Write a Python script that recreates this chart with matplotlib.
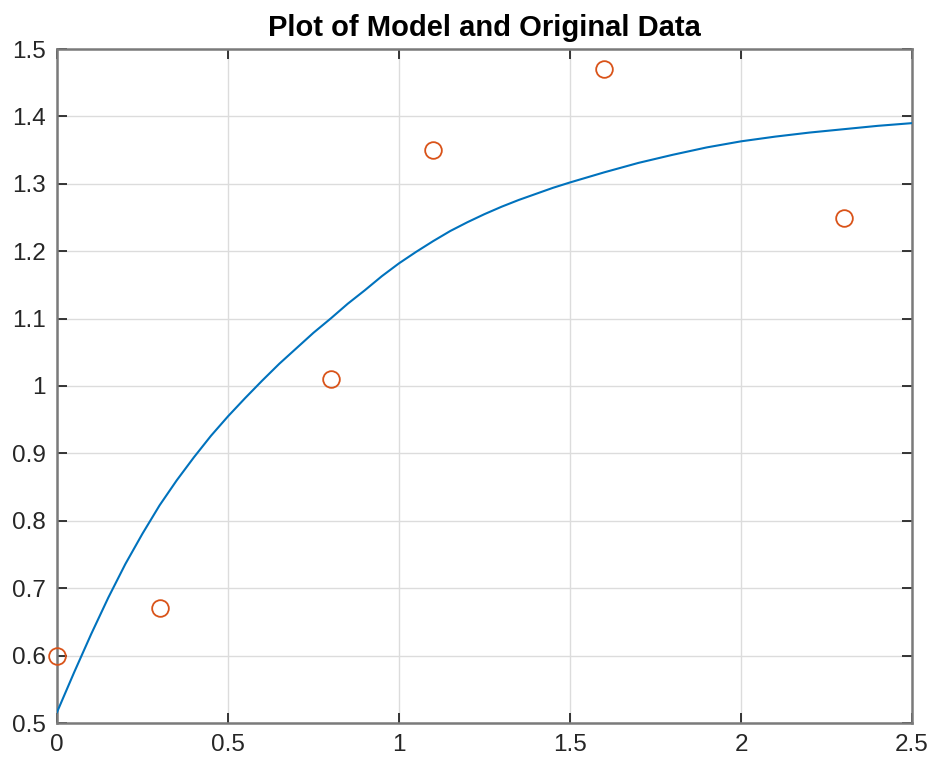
import matplotlib
matplotlib.use("Agg")
import matplotlib.pyplot as plt

# Model curve
model_x = [0.0, 0.05, 0.1, 0.15, 0.2, 0.25, 0.3, 0.35, 0.4, 0.45, 0.5, 0.55,
           0.6, 0.65, 0.7, 0.75, 0.8, 0.85, 0.9, 0.95, 1.0, 1.05, 1.1, 1.15,
           1.2, 1.25, 1.3, 1.35, 1.4, 1.45, 1.5, 1.6, 1.7, 1.8, 1.9, 2.0,
           2.1, 2.2, 2.3, 2.4, 2.5]
model_y = [0.516, 0.575, 0.632, 0.686, 0.736, 0.781, 0.823, 0.860, 0.894,
           0.926, 0.955, 0.982, 1.008, 1.033, 1.056, 1.079, 1.100, 1.122,
           1.142, 1.163, 1.182, 1.199, 1.215, 1.230, 1.243, 1.255, 1.266,
           1.276, 1.285, 1.294, 1.302, 1.317, 1.331, 1.343, 1.354, 1.363,
           1.370, 1.376, 1.381, 1.386, 1.390]

# Original data
data_x = [0.0, 0.3, 0.8, 1.1, 1.6, 2.3]
data_y = [0.60, 0.67, 1.01, 1.35, 1.47, 1.25]

x_ticks = [0, 0.5, 1, 1.5, 2, 2.5]
x_ticklabels = ["0", "0.5", "1", "1.5", "2", "2.5"]
y_ticks = [0.5, 0.6, 0.7, 0.8, 0.9, 1.0, 1.1, 1.2, 1.3, 1.4, 1.5]
y_ticklabels = ["0.5", "0.6", "0.7", "0.8", "0.9", "1", "1.1", "1.2", "1.3", "1.4", "1.5"]

plt.rcParams['font.family'] = ['Liberation Sans', 'DejaVu Sans']

fig = plt.figure(figsize=(9.36, 7.64), dpi=100)
ax = fig.add_axes([57/936, 1 - 723/764, (912 - 57)/936, (723 - 49)/764])

ax.plot(model_x, model_y, color='#0072BD', lw=1.5, zorder=3,
        solid_joinstyle='round')
ax.plot(data_x, data_y, linestyle='none', marker='o', markersize=12,
        markerfacecolor='none', markeredgecolor='#D95319', markeredgewidth=1.3,
        zorder=4, clip_on=False)

ax.set_xlim(0, 2.5)
ax.set_ylim(0.5, 1.5)
ax.set_xticks(x_ticks)
ax.set_xticklabels(x_ticklabels)
ax.set_yticks(y_ticks)
ax.set_yticklabels(y_ticklabels)

ax.grid(True, color='#dcdcdc', lw=1.0)
ax.set_axisbelow(True)
ax.tick_params(direction='in', length=7, width=1.3, colors='#262626',
               labelsize=17.5, top=True, right=True, pad=8)
for s in ax.spines.values():
    s.set_color('#7a7a7a')
    s.set_linewidth(1.8)

ax.set_title("Plot of Model and Original Data", fontsize=21, fontweight='bold', pad=9)

fig.savefig("out.png", dpi=100)
